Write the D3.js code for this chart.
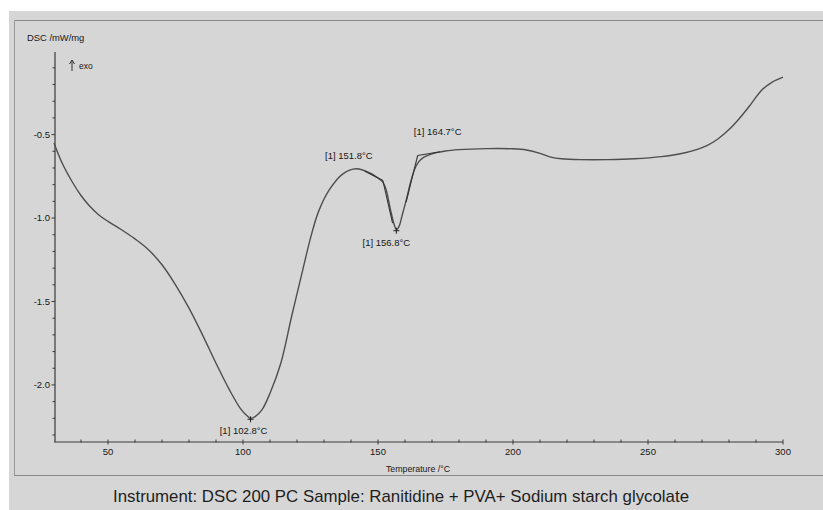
<!DOCTYPE html>
<html>
<head>
<meta charset="utf-8">
<script src="https://cdn.jsdelivr.net/npm/d3@7"></script>
<style>
  html, body { margin: 0; padding: 0; background: #ffffff; }
  svg { display: block; }
  text { font-family: "Liberation Sans", Arial, sans-serif; }
</style>
</head>
<body>
<svg id="chart" width="823" height="510"></svg>
<script>
// DSC trace: temperature (°C) and heat flow (mW/mg)
const temperature = [30, 33, 37, 40, 43, 46.5, 50, 55, 60, 65, 70, 75, 80, 85, 90, 95, 99, 101.5, 102.8, 104.5,
  107, 110, 114, 118, 122, 125, 128, 132, 137, 142, 147, 150, 151.8, 153, 154.5, 156, 156.8, 157.8, 159, 160.5,
  162, 163.5, 165, 167, 170, 175, 180, 190, 200, 205, 210, 214, 218, 225, 235, 245, 255, 262, 268, 272,
  276, 280, 284, 288, 292, 296, 300];
const dsc = [-0.55, -0.67, -0.79, -0.865, -0.925, -0.98, -1.02, -1.07, -1.125, -1.19, -1.28, -1.40, -1.54, -1.70, -1.87, -2.03, -2.14, -2.185, -2.20, -2.19,
  -2.15, -2.05, -1.87, -1.59, -1.32, -1.12, -0.96, -0.83, -0.735, -0.705, -0.73, -0.76, -0.785, -0.83, -0.94, -1.04, -1.07, -1.05, -0.98, -0.89,
  -0.79, -0.71, -0.665, -0.635, -0.615, -0.598, -0.59, -0.584, -0.585, -0.592, -0.612, -0.635, -0.645, -0.65, -0.65, -0.645, -0.632, -0.615, -0.59, -0.565,
  -0.525, -0.47, -0.40, -0.32, -0.235, -0.185, -0.155];

// Evaluated events
const peakTemps = [102.8, 156.8];
const peakValues = [-2.20, -1.07];
const onsetTemps = [151.8];
const onsetValues = [-0.775];
const endTemps = [164.7];
const endValues = [-0.625];

// Tangent construction lines at onset / end of the small peak
const tangentSegments = [
  [[145, -0.718], [151.8, -0.775]],
  [[151.8, -0.775], [155.4, -1.03]],
  [[160.4, -0.905], [164.7, -0.625]],
  [[164.7, -0.625], [173, -0.603]]
];

const xTicks = [50, 100, 150, 200, 250, 300];
const yTicks = [-2.0, -1.5, -1.0, -0.5];

const svg = d3.select("#chart");

// page background with scanned-sheet frame
svg.append("rect").attr("x", 9).attr("y", 11).attr("width", 814).attr("height", 499).attr("fill", "#d6d6d6");
svg.append("line").attr("x1", 14).attr("x2", 823).attr("y1", 20.5).attr("y2", 20.5).attr("stroke", "#8a8a8a").attr("stroke-width", 1.2);
svg.append("line").attr("x1", 14.5).attr("x2", 14.5).attr("y1", 20).attr("y2", 476).attr("stroke", "#9a9a9a").attr("stroke-width", 1);
svg.append("line").attr("x1", 14).attr("x2", 823).attr("y1", 475.5).attr("y2", 475.5).attr("stroke", "#8a8a8a").attr("stroke-width", 1.2);

const x = d3.scaleLinear().domain([30, 300]).range([54, 783]);
const y = d3.scaleLinear().domain([-2.342, -0.005]).range([442, 52]);

const axisColor = "#3a3a3a";
const textColor = "#161616";

// x axis
const gx = svg.append("g").attr("transform", "translate(0,442)");
gx.append("line").attr("x1", x(30)).attr("x2", x(300)).attr("stroke", axisColor).attr("stroke-width", 1.2);
gx.selectAll("line.minor").data(d3.range(40, 301, 10)).enter().append("line")
  .attr("x1", d => x(d)).attr("x2", d => x(d))
  .attr("y1", -2.5).attr("y2", d => d % 50 === 0 ? 2.5 : 0.5)
  .attr("stroke", axisColor).attr("stroke-width", 1);
gx.selectAll("text").data(xTicks).enter().append("text")
  .attr("x", d => x(d)).attr("y", 13).attr("text-anchor", "middle")
  .attr("font-size", "9.5px").attr("fill", textColor).text(d => d);
svg.append("text").attr("x", 418).attr("y", 472).attr("text-anchor", "middle")
  .attr("font-size", "8.8px").attr("fill", textColor).text("Temperature /°C");

// y axis
const gy = svg.append("g").attr("transform", "translate(55,0)");
gy.append("line").attr("y1", y(-0.005)).attr("y2", y(-2.342)).attr("stroke", axisColor).attr("stroke-width", 1.2);
gy.selectAll("line.tk").data(d3.range(-23, 0).map(v => v / 10)).enter().append("line")
  .attr("y1", d => y(d)).attr("y2", d => y(d))
  .attr("x1", d => Math.abs(d * 10) % 5 === 0 ? -3.5 : -2.5).attr("x2", 0)
  .attr("stroke", axisColor).attr("stroke-width", 1);
gy.selectAll("text").data(yTicks).enter().append("text")
  .attr("x", -5).attr("y", d => y(d) + 3.3).attr("text-anchor", "end")
  .attr("font-size", "9.5px").attr("fill", textColor).text(d => d.toFixed(1));
svg.append("text").attr("x", 27).attr("y", 40.5).attr("font-size", "9.4px").attr("fill", textColor).text("DSC /mW/mg");

// exo direction marker
svg.append("line").attr("x1", 72).attr("x2", 72).attr("y1", 71).attr("y2", 61).attr("stroke", "#333").attr("stroke-width", 1);
svg.append("path").attr("d", "M69.5,64 L72,60 L74.5,64").attr("fill", "none").attr("stroke", "#333").attr("stroke-width", 1);
svg.append("text").attr("x", 79).attr("y", 69).attr("font-size", "8.5px").attr("fill", textColor).text("exo");

// measured curve
const pts = temperature.map((t, i) => [t, dsc[i]]);
const line = d3.line().x(d => x(d[0])).y(d => y(d[1])).curve(d3.curveCatmullRom.alpha(0.5));
svg.append("path").datum(pts).attr("d", line).attr("fill", "none")
  .attr("stroke", "#4e4e4e").attr("stroke-width", 1.4).attr("stroke-linejoin", "round");

// tangent construction
svg.selectAll("line.tan").data(tangentSegments).enter().append("line")
  .attr("x1", d => x(d[0][0])).attr("y1", d => y(d[0][1]))
  .attr("x2", d => x(d[1][0])).attr("y2", d => y(d[1][1]))
  .attr("stroke", "#333").attr("stroke-width", 1.1);

// peak markers
peakTemps.forEach((t, i) => {
  const px = x(t), py = y(peakValues[i]) + 1;
  svg.append("path").attr("d", `M${px - 3},${py} L${px + 3},${py} M${px},${py - 3} L${px},${py + 3}`)
    .attr("stroke", "#222").attr("stroke-width", 1);
});

const fmt = t => `[1] ${t.toFixed(1)}°C`;
const labelSize = "9.5px";
svg.append("text").attr("x", x(peakTemps[0]) - 7).attr("y", y(peakValues[0]) + 16).attr("text-anchor", "middle")
  .attr("font-size", labelSize).attr("fill", textColor).text(fmt(peakTemps[0]));
svg.append("text").attr("x", x(peakTemps[1]) - 10).attr("y", y(peakValues[1]) + 16).attr("text-anchor", "middle")
  .attr("font-size", labelSize).attr("fill", textColor).text(fmt(peakTemps[1]));
svg.append("text").attr("x", x(onsetTemps[0]) - 34).attr("y", y(onsetValues[0]) - 21).attr("text-anchor", "middle")
  .attr("font-size", labelSize).attr("fill", textColor).text(fmt(onsetTemps[0]));
svg.append("text").attr("x", x(endTemps[0]) + 20).attr("y", y(endValues[0]) - 20).attr("text-anchor", "middle")
  .attr("font-size", labelSize).attr("fill", textColor).text(fmt(endTemps[0]));

// caption
svg.append("text").attr("x", 401).attr("y", 502).attr("text-anchor", "middle")
  .attr("font-size", "17px").attr("fill", "#1e1e1e").attr("textLength", 576).attr("lengthAdjust", "spacingAndGlyphs")
  .text("Instrument: DSC 200 PC Sample: Ranitidine + PVA+ Sodium starch glycolate");
</script>
</body>
</html>
